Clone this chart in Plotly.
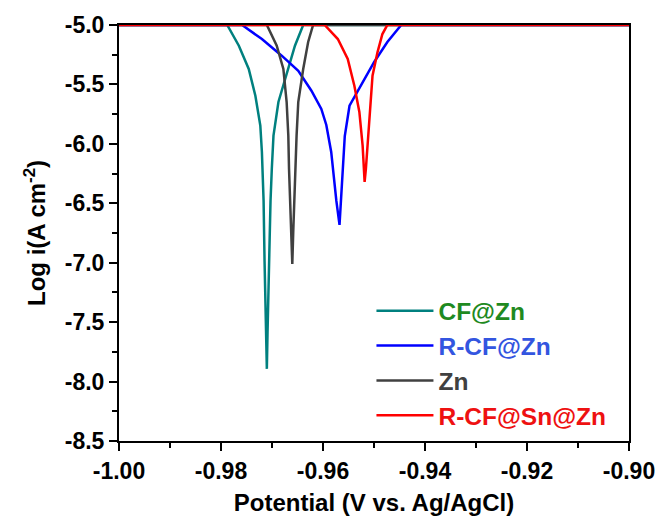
import numpy as np
import plotly.graph_objects as go

# Tafel curves: potential (V vs. Ag/AgCl) and log current density
cf_zn_v = [-1.000, -0.97878, -0.97650, -0.97456, -0.97326, -0.97229, -0.97198, -0.97184,
           -0.97165, -0.97146, -0.97126, -0.97101, -0.97087, -0.97058, -0.97029, -0.97004,
           -0.96971, -0.96874, -0.96744, -0.96550, -0.96388, -0.900]
cf_zn_log = [-5.0, -5.0, -5.174, -5.370, -5.595, -5.847, -6.068, -6.211,
             -6.480, -6.985, -7.489, -7.893, -7.574, -6.985, -6.480, -6.211,
             -5.931, -5.648, -5.454, -5.174, -5.0, -5.0]

rcf_zn_v = [-1.000, -0.97586, -0.97198, -0.96810, -0.96485, -0.96227, -0.96033, -0.95935,
            -0.95839, -0.95806, -0.95738, -0.95676, -0.95641, -0.95612, -0.95573, -0.95480,
            -0.95256, -0.94996, -0.94738, -0.94466, -0.900]
rcf_zn_log = [-5.0, -5.0, -5.118, -5.258, -5.385, -5.553, -5.706, -5.841,
              -6.068, -6.211, -6.480, -6.682, -6.396, -6.144, -5.934, -5.679,
              -5.511, -5.311, -5.143, -5.0, -5.0]

zn_v = [-1.000, -0.97101, -0.96907, -0.96777, -0.96713, -0.96680, -0.96666, -0.96641,
        -0.96602, -0.96583, -0.96553, -0.96530, -0.96518, -0.96485, -0.96388, -0.96291,
        -0.96194, -0.900]
zn_log = [-5.0, -5.0, -5.174, -5.370, -5.648, -5.931, -6.211, -6.480,
          -7.010, -6.733, -6.337, -6.211, -5.931, -5.648, -5.370, -5.143,
          -5.0, -5.0]

rcf_sn_zn_v = [-1.000, -0.95967, -0.95709, -0.95515, -0.95385, -0.95287, -0.95223, -0.95204,
               -0.95184, -0.95159, -0.95093, -0.95029, -0.94932, -0.94835, -0.94738, -0.900]
rcf_sn_zn_log = [-5.0, -5.0, -5.118, -5.286, -5.511, -5.732, -6.015, -6.211,
                 -6.320, -6.211, -5.791, -5.426, -5.230, -5.076, -5.0, -5.0]

x_ticks = [-1.00, -0.98, -0.96, -0.94, -0.92, -0.90]
x_tick_labels = ["-1.00", "-0.98", "-0.96", "-0.94", "-0.92", "-0.90"]
y_ticks = [-8.5, -8.0, -7.5, -7.0, -6.5, -6.0, -5.5, -5.0]
y_tick_labels = ["-8.5", "-8.0", "-7.5", "-7.0", "-6.5", "-6.0", "-5.5", "-5.0"]

FONT = "Liberation Sans, Arial, sans-serif"

series = [
    ("CF@Zn", cf_zn_v, cf_zn_log, "#00807f", "#1f8a1f"),
    ("R-CF@Zn", rcf_zn_v, rcf_zn_log, "#0000ff", "#3355e0"),
    ("Zn", zn_v, zn_log, "#404040", "#404040"),
    ("R-CF@Sn@Zn", rcf_sn_zn_v, rcf_sn_zn_log, "#ff0000", "#ee1111"),
]

fig = go.Figure()
for name, xv, yv, line_color, text_color in series:
    fig.add_trace(go.Scatter(
        x=xv, y=yv, mode="lines",
        name=f"<span style='color:{text_color}'><b>{name}</b></span>",
        line=dict(color=line_color, width=2.5),
        cliponaxis=True,
    ))

axis_common = dict(
    showline=True, linecolor="black", linewidth=2, mirror=True,
    showgrid=False, zeroline=False,
    ticks="outside", ticklen=8, tickwidth=2, tickcolor="black",
    tickfont=dict(family=FONT, size=23, color="black"),
)

fig.update_xaxes(
    range=[-1.0, -0.9],
    tickmode="array", tickvals=x_ticks,
    ticktext=[f"<b>{t}</b>" for t in x_tick_labels],
    minor=dict(tickvals=list(np.arange(-0.99, -0.90, 0.02)), ticks="outside",
               ticklen=5, tickwidth=2, tickcolor="black"),
    title=dict(text="<b>Potential (V vs. Ag/AgCl)</b>",
               font=dict(family=FONT, size=24, color="black"), standoff=12),
    **axis_common,
)
fig.update_yaxes(
    range=[-8.5, -5.0],
    tickmode="array", tickvals=y_ticks,
    ticktext=[f"<b>{t}</b>" for t in y_tick_labels],
    minor=dict(tickvals=list(np.arange(-8.25, -5.0, 0.5)), ticks="outside",
               ticklen=5, tickwidth=2, tickcolor="black"),
    title=dict(text="<b>Log i(A cm<sup>-2</sup>)</b>",
               font=dict(family=FONT, size=24, color="black"), standoff=12),
    **axis_common,
)

fig.update_layout(
    width=667, height=524,
    margin=dict(l=119, r=33, t=24, b=83),
    plot_bgcolor="white", paper_bgcolor="white",
    showlegend=True,
    legend=dict(
        x=0.495, y=0.367, xanchor="left", yanchor="top",
        bgcolor="rgba(0,0,0,0)", borderwidth=0,
        font=dict(family=FONT, size=24.5),
        itemwidth=57, tracegroupgap=0,
    ),
)

fig.write_html("out.html")
